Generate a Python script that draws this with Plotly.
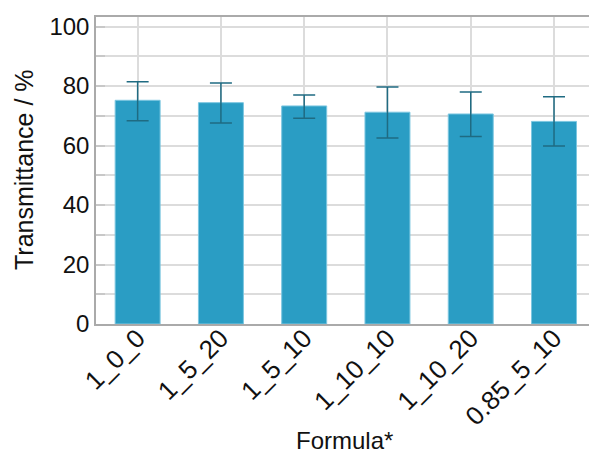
import plotly.graph_objects as go

categories = ["1_0_0", "1_5_20", "1_5_10", "1_10_10", "1_10_20", "0.85_5_10"]
transmittance = [75.2, 74.4, 73.3, 71.2, 70.6, 68.1]
err_plus = [6.2, 6.6, 3.7, 8.5, 7.4, 8.3]
err_minus = [6.9, 6.8, 4.1, 8.7, 7.6, 8.3]

fig = go.Figure()
fig.add_trace(go.Bar(
    x=categories, y=transmittance, width=0.54,
    marker=dict(color="#2a9dc4", line=dict(color="#7cc6e0", width=1)),
    error_y=dict(type="data", symmetric=False, array=err_plus, arrayminus=err_minus,
                 color="#1f6b82", thickness=1.5, width=11),
))

family = "Liberation Sans, Arial, sans-serif"
ytick_font = dict(family=family, size=24, color="#111")
xtick_font = dict(family=family, size=26, color="#111")
fig.update_layout(
    width=589, height=458,
    margin=dict(l=96, r=0, t=17, b=134, autoexpand=False),
    plot_bgcolor="white", paper_bgcolor="white",
    showlegend=False,
    font=ytick_font,
)
fig.update_xaxes(
    range=[-0.5, 5.42], tickangle=-45, tickfont=xtick_font, automargin=False,
    ticklabelstandoff=-13,
    showgrid=True, gridcolor="#dcdcdc", gridwidth=1.5,
    showline=True, linecolor="#aaaaaa", linewidth=1.5, mirror=True,
    ticks="",
)
fig.update_yaxes(
    range=[0, 103.2], tickvals=[0, 20, 40, 60, 80, 100], tickfont=ytick_font, automargin=False,
    showgrid=True, gridcolor="#dcdcdc", gridwidth=1.5,
    showline=True, linecolor="#aaaaaa", linewidth=1.5, mirror=True,
    ticks="inside", ticklen=9, tickcolor="#c8c8c8", tickwidth=1.5,
    minor=dict(tickvals=[10, 30, 50, 70, 90], showgrid=True, gridcolor="#dcdcdc",
               gridwidth=1.5, ticks="inside", ticklen=9, tickcolor="#c8c8c8", tickwidth=1.5),
    zeroline=False,
)
fig.add_annotation(text="Formula*", xref="paper", yref="paper", x=(344 - 96) / 493,
                   y=(324 - 440) / 307, xanchor="center", yanchor="middle",
                   showarrow=False, font=dict(family=family, size=24, color="#111"))
fig.add_annotation(text="Transmittance / %", xref="paper", yref="paper", x=(24 - 96) / 493,
                   y=(324 - 170) / 307, xanchor="center", yanchor="middle", textangle=-90,
                   showarrow=False, font=dict(family=family, size=25, color="#111"))
fig.write_html("out.html", config={"displayModeBar": False},
               post_script="document.body.style.margin='0px';")
